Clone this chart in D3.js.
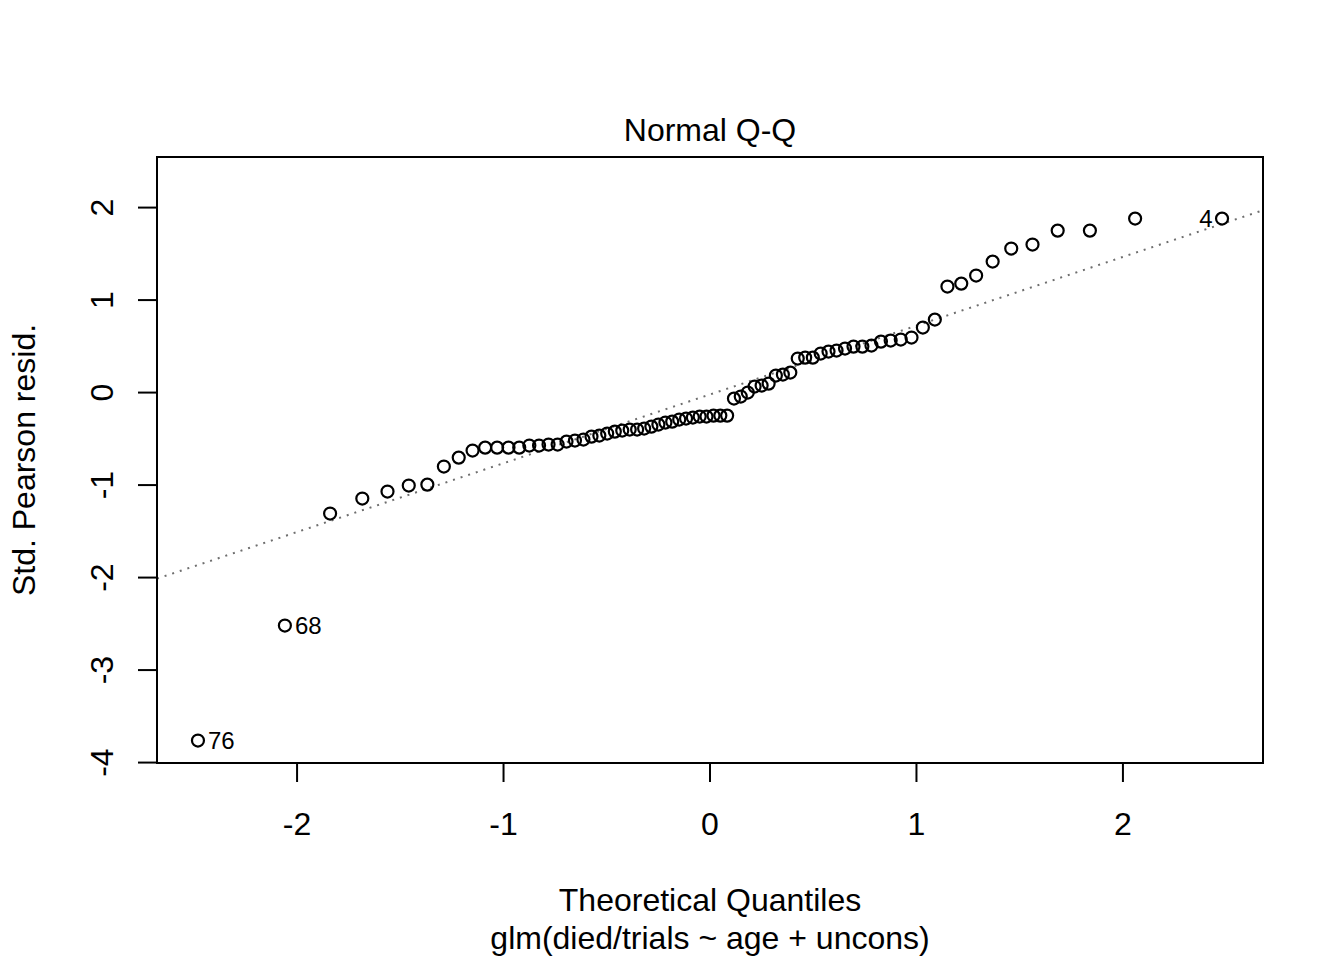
<!DOCTYPE html>
<html>
<head>
<meta charset="utf-8">
<script src="https://cdn.jsdelivr.net/npm/d3@7"></script>
<style>
  html, body { margin: 0; padding: 0; background: #ffffff; }
  svg { display: block; }
  text { font-family: "Liberation Sans", Arial, Helvetica, sans-serif; fill: #000; }
</style>
</head>
<body>
<svg id="chart" width="1344" height="960"></svg>
<script>
// ---- data ----
const theoreticalQuantiles = [
  -2.480, -2.059, -1.840, -1.684, -1.562, -1.459, -1.369, -1.289, -1.217, -1.150,
  -1.089, -1.031, -0.976, -0.924, -0.875, -0.828, -0.782, -0.738, -0.695, -0.654,
  -0.613, -0.574, -0.536, -0.498, -0.461, -0.425, -0.389, -0.353, -0.319, -0.284,
  -0.250, -0.216, -0.183, -0.149, -0.116, -0.083, -0.050, -0.017,
   0.017,  0.050,  0.083,  0.116,  0.149,  0.183,  0.216,  0.250,  0.284,  0.319,
   0.353,  0.389,  0.425,  0.461,  0.498,  0.536,  0.574,  0.613,  0.654,  0.695,
   0.738,  0.782,  0.828,  0.875,  0.924,  0.976,  1.031,  1.089,  1.150,  1.217,
   1.289,  1.369,  1.459,  1.562,  1.684,  1.840,  2.059,  2.480
];
const stdPearsonResid = [
  -3.762, -2.519, -1.308, -1.146, -1.070, -1.005, -0.995, -0.800, -0.703, -0.627,
  -0.595, -0.595, -0.595, -0.595, -0.573, -0.573, -0.562, -0.562, -0.530, -0.519,
  -0.508, -0.476, -0.465, -0.443, -0.422, -0.411, -0.400, -0.400, -0.389, -0.368,
  -0.346, -0.324, -0.314, -0.292, -0.281, -0.270, -0.259, -0.259, -0.249, -0.249,
  -0.249, -0.065, -0.043,  0.000,  0.065,  0.076,  0.097,  0.184,  0.195,  0.216,
   0.368,  0.378,  0.378,  0.422,  0.443,  0.454,  0.476,  0.497,  0.497,  0.508,
   0.551,  0.562,  0.573,  0.595,  0.703,  0.789,  1.146,  1.178,  1.265,  1.416,
   1.557,  1.600,  1.751,  1.751,  1.881,  1.881
];
const labelRanks = [0, 1, 75];          // positions in the sorted order
const labelTexts = ["76", "68", "4"];
const labelSides = ["right", "right", "left"];
const xTicks = [-2, -1, 0, 1, 2];
const yTicks = [-4, -3, -2, -1, 0, 1, 2];
const titleText = "Normal Q-Q";
const xLabel = "Theoretical Quantiles";
const subLabel = "glm(died/trials ~ age + uncons)";
const yLabel = "Std. Pearson resid.";

// ---- layout ----
const W = 1344, H = 960;
const plot = { left: 157, right: 1263, top: 157, bottom: 763 };
const svg = d3.select("#chart");
svg.append("rect").attr("width", W).attr("height", H).attr("fill", "#fff");

// R-like ranges: 4% padding; y top extended 7.5% for labels
const xExt = d3.extent(theoreticalQuantiles);
const xPad = (xExt[1] - xExt[0]) * 0.04;
let yLim = d3.extent(stdPearsonResid);
yLim[1] = yLim[1] + (yLim[1] - yLim[0]) * 0.075;
const yPad = (yLim[1] - yLim[0]) * 0.04;

const x = d3.scaleLinear().domain([xExt[0] - xPad, xExt[1] + xPad]).range([plot.left, plot.right]);
const y = d3.scaleLinear().domain([yLim[0] - yPad, yLim[1] + yPad]).range([plot.bottom, plot.top]);

// clip
svg.append("defs").append("clipPath").attr("id", "clip")
  .append("rect").attr("x", plot.left).attr("y", plot.top)
  .attr("width", plot.right - plot.left).attr("height", plot.bottom - plot.top);

// qqline through the quartiles
const q1 = d3.quantile(stdPearsonResid, 0.25), q3 = d3.quantile(stdPearsonResid, 0.75);
const z1 = -0.6744898, z3 = 0.6744898;
const slope = (q3 - q1) / (z3 - z1);
const intercept = q1 - slope * z1;
const xd = x.domain();
svg.append("line")
  .attr("clip-path", "url(#clip)")
  .attr("x1", x(xd[0])).attr("y1", y(intercept + slope * xd[0]))
  .attr("x2", x(xd[1])).attr("y2", y(intercept + slope * xd[1]))
  .attr("stroke", "#6e6e6e").attr("stroke-width", 2)
  .attr("stroke-dasharray", "2,6");

// points
svg.append("g").selectAll("circle")
  .data(theoreticalQuantiles.map((q, i) => [q, stdPearsonResid[i]]))
  .join("circle")
  .attr("cx", d => x(d[0])).attr("cy", d => y(d[1]))
  .attr("r", 6)
  .attr("fill", "none").attr("stroke", "#000").attr("stroke-width", 2.2);

// point labels
svg.append("g").selectAll("text")
  .data(labelRanks.map((r, i) => ({ r, t: labelTexts[i], s: labelSides[i] })))
  .join("text")
  .attr("x", d => x(theoreticalQuantiles[d.r]) + (d.s === "right" ? 10 : -9.5))
  .attr("y", d => y(stdPearsonResid[d.r]))
  .attr("dy", "0.35em")
  .attr("text-anchor", d => d.s === "right" ? "start" : "end")
  .style("font-size", "24px")
  .text(d => d.t);

// axes
const xAxis = d3.axisBottom(x).tickValues(xTicks).tickFormat(d => String(d))
  .tickSize(19).tickPadding(30).offset(0);
const gx = svg.append("g").attr("transform", `translate(0,${plot.bottom})`).call(xAxis);
gx.select(".domain").remove();
gx.selectAll(".tick line").attr("stroke", "#000").attr("stroke-width", 2);
gx.selectAll(".tick text").style("font-size", "32px").attr("fill", "#000")
  .style("font-family", '"Liberation Sans", Arial, sans-serif');
gx.append("line").attr("x1", x(xTicks[0])).attr("x2", x(xTicks[xTicks.length - 1]))
  .attr("stroke", "#000").attr("stroke-width", 2);

const yAxis = d3.axisLeft(y).tickValues(yTicks).tickFormat(d => String(d))
  .tickSize(19).offset(0);
const gy = svg.append("g").attr("transform", `translate(${plot.left},0)`).call(yAxis);
gy.select(".domain").remove();
gy.selectAll(".tick line").attr("stroke", "#000").attr("stroke-width", 2);
gy.selectAll(".tick text")
  .attr("x", null).attr("dy", null).attr("y", null)
  .attr("text-anchor", "middle")
  .attr("transform", "translate(-44,0) rotate(-90)")
  .attr("fill", "#000")
  .style("font-size", "32px")
  .style("font-family", '"Liberation Sans", Arial, sans-serif');
gy.append("line").attr("y1", y(yTicks[0])).attr("y2", y(yTicks[yTicks.length - 1]))
  .attr("stroke", "#000").attr("stroke-width", 2);

// box
svg.append("rect")
  .attr("x", plot.left).attr("y", plot.top)
  .attr("width", plot.right - plot.left).attr("height", plot.bottom - plot.top)
  .attr("fill", "none").attr("stroke", "#000").attr("stroke-width", 2);

// titles
const cx = (plot.left + plot.right) / 2;
svg.append("text").attr("x", cx).attr("y", 141).attr("text-anchor", "middle")
  .style("font-size", "32px").text(titleText);
svg.append("text").attr("x", cx).attr("y", 911).attr("text-anchor", "middle")
  .style("font-size", "32px").text(xLabel);
svg.append("text").attr("x", cx).attr("y", 949).attr("text-anchor", "middle")
  .style("font-size", "32px").text(subLabel);
svg.append("text")
  .attr("transform", `translate(35,${(plot.top + plot.bottom) / 2}) rotate(-90)`)
  .attr("text-anchor", "middle")
  .style("font-size", "32px").text(yLabel);
</script>
</body>
</html>
